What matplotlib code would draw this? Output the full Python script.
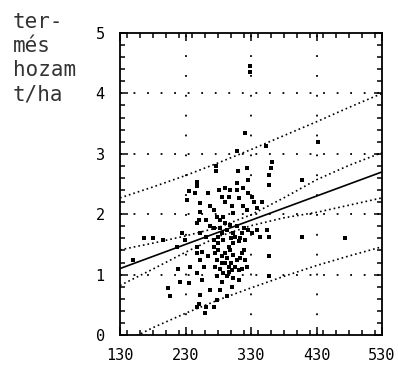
import matplotlib
matplotlib.use("Agg")
import matplotlib.pyplot as plt
from matplotlib.ticker import MultipleLocator, FixedLocator

# Observations: rainfall-type x value vs. crop yield (t/ha)
obs_x = [
    329, 329, 321, 353, 433, 308, 277, 277, 362, 361, 310, 324, 357, 357, 408,
    247, 247, 245, 235, 233, 308, 308, 291, 298, 286, 291, 318, 326, 331, 334,
    252, 252, 250, 268, 273, 278, 283, 288, 301, 303, 318, 324, 339, 347,
    224, 229, 268, 273, 283, 291, 298, 303, 308, 316, 319, 326, 331, 339, 344, 354, 357,
    273, 280, 288, 296, 303, 311, 247, 252, 408, 474,
    166, 181, 196, 150, 217, 219, 237, 235, 222, 204, 206,
    247, 247, 252, 247, 255,
    273, 275, 280, 285, 291, 298, 303, 308, 316, 319,
    275, 283, 291, 296, 301, 311, 316, 324,
    278, 285, 293, 301, 283, 293, 278,
    252, 250, 260, 247, 262, 357, 357, 268, 273,
    280, 286, 293, 300, 306, 313, 321, 278, 286, 293, 300, 306, 313, 321,
    288, 296, 303, 311, 265, 262, 262, 265, 281, 296, 311, 326, 255, 258,
]
obs_y = [
    4.45, 4.36, 3.34, 3.13, 3.20, 3.04, 2.79, 2.71, 2.87, 2.76, 2.71, 2.76, 2.65, 2.49, 2.57,
    2.54, 2.46, 2.35, 2.38, 2.24, 2.51, 2.40, 2.43, 2.40, 2.29, 2.21, 2.43, 2.35, 2.29, 2.21,
    2.18, 2.04, 1.91, 2.13, 2.07, 1.96, 1.91, 1.96, 2.13, 2.02, 2.13, 2.07, 2.10, 2.21,
    1.69, 1.57, 1.80, 1.77, 1.77, 1.85, 1.82, 1.69, 1.80, 1.69, 1.77, 1.74, 1.69, 1.74, 1.63, 1.74, 1.63,
    1.57, 1.52, 1.57, 1.46, 1.52, 1.55, 1.85, 1.69, 1.63, 1.60,
    1.60, 1.60, 1.57, 1.24, 1.46, 1.10, 1.13, 0.86, 0.88, 0.77, 0.64,
    1.46, 1.35, 1.24, 1.02, 0.91,
    1.46, 1.35, 1.41, 1.30, 1.35, 1.41, 1.33, 1.24, 1.35, 1.41,
    1.13, 1.10, 1.19, 1.13, 1.08, 1.08, 1.10, 1.13,
    0.97, 0.88, 0.97, 0.80, 0.75, 0.64, 0.58,
    0.66, 0.52, 0.36, 0.47, 0.47, 1.30, 0.97, 0.75, 0.47,
    1.63, 1.69, 1.74, 1.60, 1.63, 1.60, 1.57, 1.24, 1.19, 1.27, 1.19, 1.13, 1.27, 1.24,
    1.02, 1.05, 0.94, 0.91, 1.30, 1.63, 1.91, 2.35, 2.40, 2.29, 2.27, 2.57, 1.38, 1.13,
]

# Fitted regression line
fit_x = [130, 530]
fit_y = [1.10, 2.70]

# Confidence and prediction bands
band_x = [130, 180, 230, 280, 330, 380, 430, 480, 530]
conf_upper = [1.41, 1.52, 1.64, 1.78, 1.99, 2.27, 2.57, 2.81, 3.02]
conf_lower = [0.82, 1.09, 1.37, 1.63, 1.81, 1.94, 2.03, 2.15, 2.27]
pred_upper = [2.27, 2.45, 2.64, 2.85, 3.07, 3.30, 3.53, 3.77, 4.00]
pred_lower = [-0.15, 0.12, 0.36, 0.58, 0.78, 0.97, 1.15, 1.31, 1.46]

x_ticks = [130, 230, 330, 430, 530]
y_ticks = [0, 1, 2, 3, 4, 5]

FONT = "DejaVu Sans Mono"

fig = plt.figure(figsize=(3.98, 3.76), dpi=100)
ax = fig.add_axes([120 / 398, 1 - 335 / 376, 262 / 398, 302 / 376])

# dotted grid at major ticks
for yv in y_ticks[1:-1]:
    ax.axhline(yv, color="black", lw=1.3, ls=(0, (1, 6.5)), zorder=1)
for xv in x_ticks[1:-1]:
    ax.axvline(xv, color="black", lw=1.3, ls=(0, (1, 10.0)), zorder=1)

ax.scatter(obs_x, obs_y, marker="s", s=12, color="black", linewidths=0, zorder=3)

ax.plot(fit_x, fit_y, color="black", lw=1.2, zorder=4)
band_style = dict(color="black", lw=1.2, ls=(0, (1, 1.8)), zorder=4)
for ys in (conf_upper, conf_lower, pred_upper, pred_lower):
    ax.plot(band_x, ys, **band_style)

ax.set_xlim(130, 530)
ax.set_ylim(0, 5)
ax.xaxis.set_major_locator(FixedLocator(x_ticks))
ax.xaxis.set_minor_locator(MultipleLocator(20))
ax.yaxis.set_major_locator(FixedLocator(y_ticks))
ax.yaxis.set_minor_locator(MultipleLocator(0.2))
ax.set_xticklabels([str(v) for v in x_ticks], fontfamily=FONT, fontsize=11)
ax.set_yticklabels([str(v) for v in y_ticks], fontfamily=FONT, fontsize=11)

ax.tick_params(which="both", direction="in", top=True, right=True, color="black", width=1.1)
ax.tick_params(which="major", length=6, pad=9)
ax.tick_params(which="minor", length=3.5)
ax.tick_params(axis="y", which="major", pad=11)
for sp in ax.spines.values():
    sp.set_linewidth(1.3)
    sp.set_color("black")

fig.text(13 / 398, 1 - 12 / 376, "ter-\nmés\nhozam\nt/ha", ha="left", va="top",
         fontfamily=FONT, fontsize=15, linespacing=1.25, color="#333333")

fig.savefig("out.png", dpi=100)
